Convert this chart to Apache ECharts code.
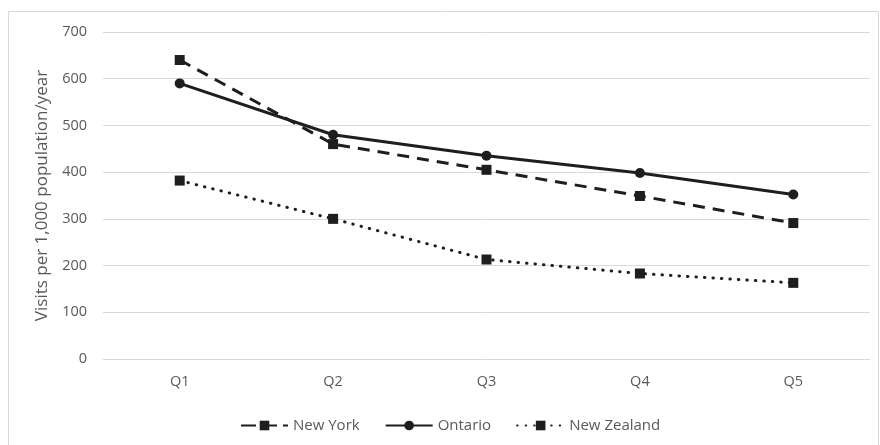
<!DOCTYPE html>
<html>
<head>
<meta charset="utf-8">
<script src="https://cdn.jsdelivr.net/npm/echarts@6/dist/echarts.min.js"></script>
<style>html,body{margin:0;padding:0;background:#fff}#c{width:880px;height:445px}</style>
</head>
<body>
<div id="c"></div>
<script>
var categories = ['Q1', 'Q2', 'Q3', 'Q4', 'Q5'];
var newYork = [640, 460, 405, 349, 291];
var ontario = [590, 480, 435, 398, 352];
var newZealand = [382, 300, 213, 183, 163];
var yTicks = { min: 0, max: 700, interval: 100 };
var yTitle = 'Visits per 1,000 population/year';

var FONT = '"Open Sans", "Liberation Sans", sans-serif';
var TXT = '#595959';
var INK = '#1e1e1e';

var chart = echarts.init(document.getElementById('c'), null, { renderer: 'canvas' });
chart.setOption({
  animation: false,
  textStyle: { fontFamily: FONT },
  graphic: [{
    type: 'rect', silent: true, z: -1,
    shape: { x: 8.5, y: 11.5, width: 870, height: 440 },
    style: { fill: 'none', stroke: '#d9d9d9', lineWidth: 1 }
  }],
  grid: { left: 103, right: 10, top: 32, bottom: 86 },
  legend: {
    left: 235, top: 413,
    itemWidth: 47, itemHeight: 12, itemGap: 25,
    textStyle: { color: TXT, fontSize: 15, fontFamily: FONT },
    data: [
      { name: 'New York', lineStyle: { type: [15, 6] } },
      { name: 'Ontario' },
      { name: 'New Zealand' }
    ]
  },
  xAxis: {
    type: 'category', data: categories, boundaryGap: true,
    axisLine: { lineStyle: { color: '#d9d9d9', width: 1 } },
    axisTick: { show: false },
    axisLabel: { color: TXT, fontSize: 14.5, margin: 15, fontFamily: FONT }
  },
  yAxis: {
    type: 'value', min: yTicks.min, max: yTicks.max, interval: yTicks.interval,
    name: yTitle, nameLocation: 'middle', nameGap: 52, nameRotate: 90,
    nameTextStyle: { color: TXT, fontSize: 17, fontFamily: FONT },
    axisLine: { show: false }, axisTick: { show: false },
    axisLabel: { color: TXT, fontSize: 14.5, margin: 16, fontFamily: FONT },
    splitLine: { lineStyle: { color: '#d9d9d9', width: 1 } }
  },
  series: [
    {
      name: 'New York', type: 'line', data: newYork,
      symbol: 'rect', symbolSize: 10,
      itemStyle: { color: INK },
      lineStyle: { color: INK, width: 3, type: [12, 8] }
    },
    {
      name: 'Ontario', type: 'line', data: ontario,
      symbol: 'circle', symbolSize: 10,
      itemStyle: { color: INK },
      lineStyle: { color: INK, width: 3, type: 'solid' }
    },
    {
      name: 'New Zealand', type: 'line', data: newZealand,
      symbol: 'rect', symbolSize: 10,
      itemStyle: { color: INK },
      lineStyle: { color: INK, width: 3, type: [0.5, 8], cap: 'round' }
    }
  ]
});
</script>
</body>
</html>
